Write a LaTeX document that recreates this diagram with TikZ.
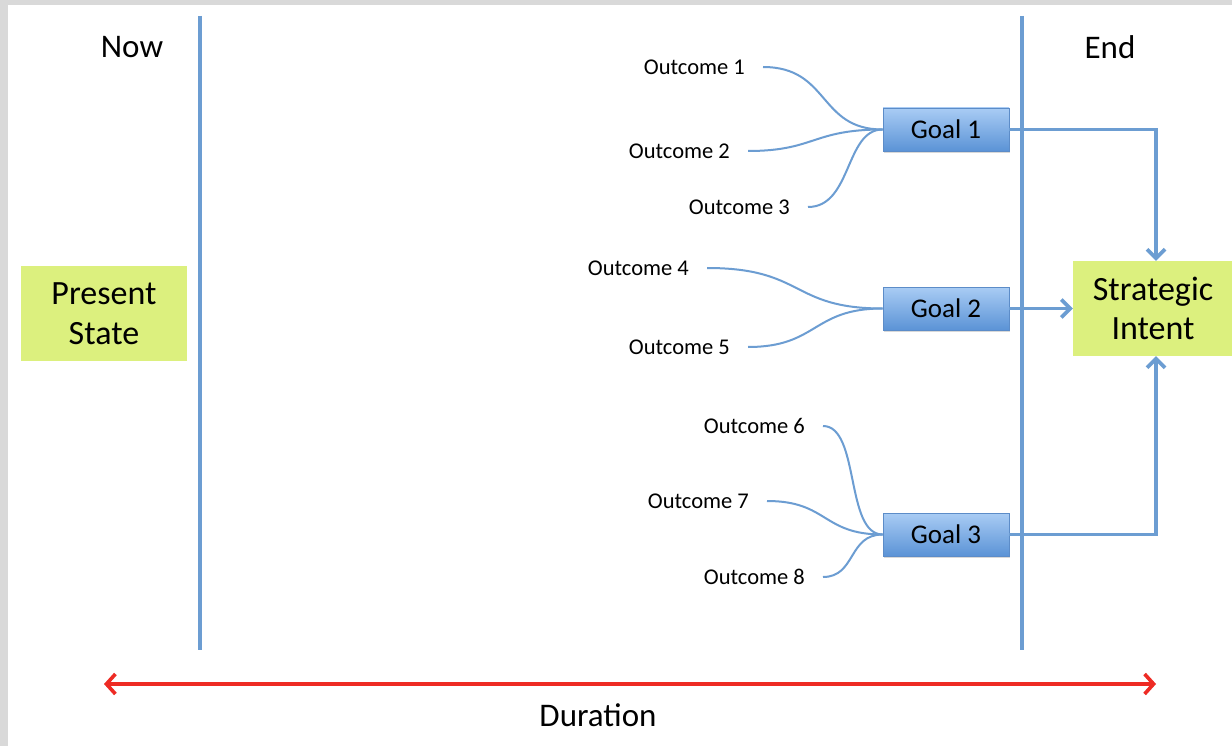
\documentclass[tikz,border=0pt]{standalone}
\usepackage{fontspec}
\setmainfont{Carlito}
\usetikzlibrary{arrows.meta,shadows}

\definecolor{frame}{HTML}{D9D9D9}
\definecolor{axis}{HTML}{6C9DD2}
\definecolor{goaltop}{HTML}{A9CCF4}
\definecolor{goalbot}{HTML}{5B93D6}
\definecolor{goaledge}{HTML}{5C8CC8}
\definecolor{statefill}{HTML}{DCF07E}
\definecolor{spanred}{HTML}{EE2B24}

\tikzset{
  label/.style={font=\fontsize{33}{38}\selectfont, inner sep=0pt},
  outcome/.style={font=\fontsize{22.5}{26}\selectfont, inner sep=0pt},
  goalbox/.style={rectangle, draw=goaledge, line width=0.8pt,
    top color=goaltop, bottom color=goalbot,
    minimum width=126pt, minimum height=43pt, inner sep=0pt,
    font=\fontsize{27}{30}\selectfont,
    drop shadow={opacity=0.3, shadow xshift=1pt, shadow yshift=-2pt}},
  statebox/.style={rectangle, fill=statefill, inner sep=0pt, align=center,
    font=\fontsize{34}{39.5}\selectfont},
  timeline/.style={draw=axis, line width=3.6pt},
  link/.style={draw=axis, line width=3.6pt,
    -{Straight Barb[length=9pt, width=18pt, line width=3.6pt]}},
  feeder/.style={draw=axis, line width=2pt},
}

\begin{document}
\begin{tikzpicture}[x=1pt, y=-1pt]
  \useasboundingbox (0,0) rectangle (1232,746);
  % page frame
  \fill[frame] (0,0) rectangle (1232,746);
  \fill[white] (8,5) rectangle (1232,746);

  % time markers
  \coordinate (nowtop) at (200,16);
  \coordinate (nowbot) at (200,650);
  \coordinate (endtop) at (1022,16);
  \coordinate (endbot) at (1022,650);
  \draw[timeline] (nowtop) -- (nowbot);
  \draw[timeline] (endtop) -- (endbot);
  \node[label] (now) at (132,47) {Now};
  \node[label] (end) at (1110,47) {End};

  % states
  \node[statebox, minimum width=166pt, minimum height=95pt] (present) at (104,313.5)
    {Present\\State};
  \node[statebox, minimum width=160pt, minimum height=95pt] (intent) at (1153,308.5)
    {Strategic\\Intent};

  % goals
  \node[goalbox] (g1) at (946,129.5) {Goal 1};
  \node[goalbox] (g2) at (946,308.5) {Goal 2};
  \node[goalbox] (g3) at (946,534.5) {Goal 3};

  % goals to intent
  \coordinate (c1) at (1156,129.5);
  \coordinate (c3) at (1156,534.5);
  \draw[link] (g1.east) -- (c1) -- (intent.north -| c1);
  \draw[link] (g2.east) -- (intent.west);
  \draw[link] (g3.east) -- (c3) -- (intent.south -| c3);

  % outcomes
  \node[outcome, anchor=east] (o1) at (745,67) {Outcome 1};
  \node[outcome, anchor=east] (o2) at (730,151) {Outcome 2};
  \node[outcome, anchor=east] (o3) at (790,207) {Outcome 3};
  \node[outcome, anchor=east] (o4) at (689,268) {Outcome 4};
  \node[outcome, anchor=east] (o5) at (730,347) {Outcome 5};
  \node[outcome, anchor=east] (o6) at (805,426) {Outcome 6};
  \node[outcome, anchor=east] (o7) at (749,501) {Outcome 7};
  \node[outcome, anchor=east] (o8) at (805,577) {Outcome 8};

  \draw[feeder] ([xshift=18pt]o1.east) .. controls (830,67) and (818,129.5) .. (g1.west);
  \draw[feeder] ([xshift=18pt]o2.east) .. controls (815,151) and (812,129.5) .. (g1.west);
  \draw[feeder] ([xshift=18pt]o3.east) .. controls (852,207) and (845,129.5) .. (g1.west);
  \draw[feeder] ([xshift=18pt]o4.east) .. controls (805,268) and (790,308.5) .. (g2.west);
  \draw[feeder] ([xshift=18pt]o5.east) .. controls (818,347) and (812,308.5) .. (g2.west);
  \draw[feeder] ([xshift=18pt]o6.east) .. controls (860,426) and (845,534.5) .. (g3.west);
  \draw[feeder] ([xshift=18pt]o7.east) .. controls (828,501) and (822,534.5) .. (g3.west);
  \draw[feeder] ([xshift=18pt]o8.east) .. controls (856,577) and (848,534.5) .. (g3.west);

  % duration span
  \coordinate (spanl) at (104,684);
  \coordinate (spanr) at (1156,684);
  \draw[spanred, line width=3.6pt,
    {Straight Barb[length=9pt, width=20pt, line width=3.6pt]}-{Straight Barb[length=9pt, width=20pt, line width=3.6pt]}]
    (spanl) -- (spanr);
  \node[label] (duration) at (598,715) {Duration};
\end{tikzpicture}
\end{document}
